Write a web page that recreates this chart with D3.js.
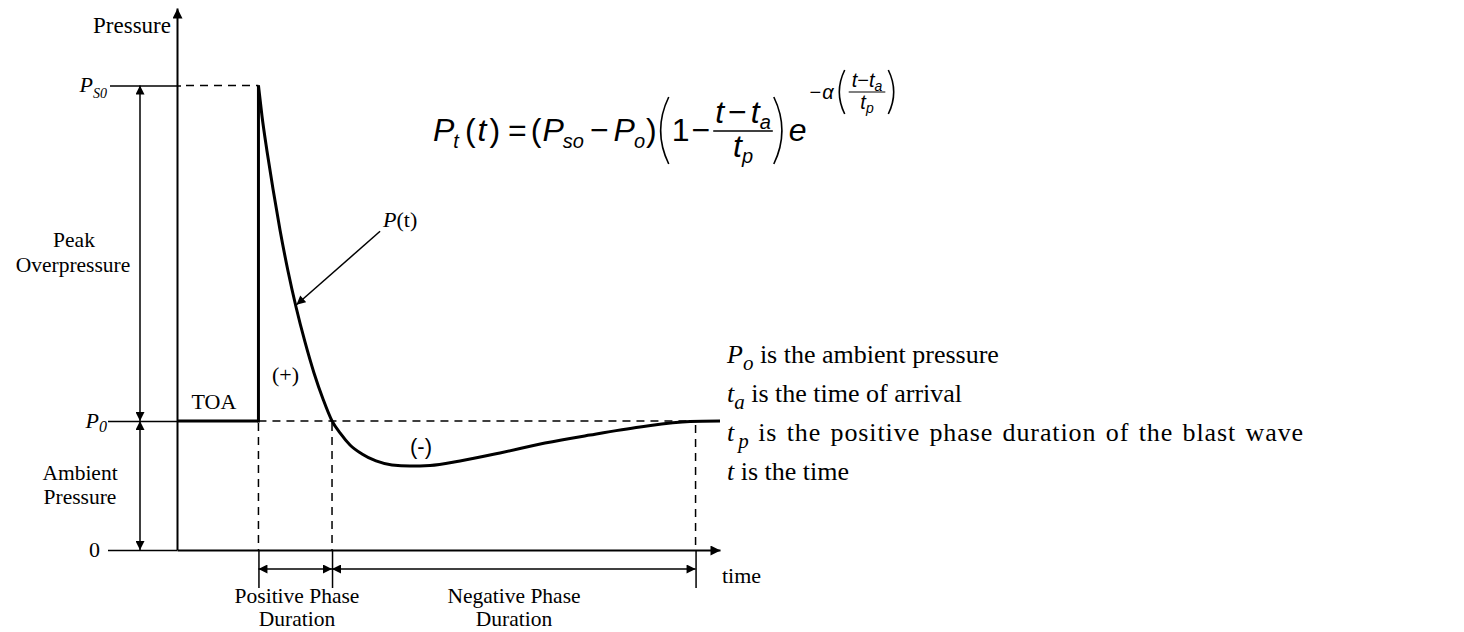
<!DOCTYPE html>
<html>
<head>
<meta charset="utf-8">
<script src="https://cdn.jsdelivr.net/npm/d3@7"></script>
<style>
  html, body { margin: 0; padding: 0; background: #fff; }
  svg { display: block; }
  .serif { font-family: "Liberation Serif", "Times New Roman", serif; fill: #000; }
  .sans { font-family: "Liberation Sans", Arial, sans-serif; fill: #000; }
</style>
</head>
<body>
<svg id="chart" width="1464" height="632"></svg>
<script>
// ---------------- data ----------------
// time in arbitrary units, pressure in arbitrary units (P0 = 1)
const timeDomain = [0, 10];
const pressureDomain = [0, 4.2];
const ambientPressure = 1.0;        // P0
const peakPressure = 3.6;           // Ps0
const arrivalTime = 1.5;            // ta
const positiveEnd = 2.855;          // ta + tp
const negativeEnd = 9.55;           // end of negative phase
const curveTime = [1.5, 1.565, 1.657, 1.768, 1.897, 2.044, 2.192, 2.357, 2.523, 2.689, 2.855, 3.002, 3.186, 3.407, 3.665, 3.959, 4.291, 4.659, 5.212, 5.948, 6.777, 7.606, 8.527, 9.448, 10];
const curvePressure = [3.6, 3.363, 3.092, 2.797, 2.48, 2.162, 1.883, 1.612, 1.372, 1.17, 1.0, 0.907, 0.814, 0.744, 0.69, 0.659, 0.651, 0.655, 0.69, 0.752, 0.829, 0.891, 0.953, 0.996, 1.0];
const pressureTicks = [0, 1.0, 3.6];
const pressureTickLabels = [["0", ""], ["P", "0"], ["P", "S0"]];
const timeTicks = [1.5, 2.855, 9.55];
const definitions = [
  ["P", "o", " is the ambient pressure"],
  ["t", "a", " is the time of arrival"],
  ["t", "p", " is the positive phase duration of the blast wave"],
  ["t", "", " is the time"]
];

// ---------------- setup ----------------
const svg = d3.select("#chart");
const x = d3.scaleLinear().domain(timeDomain).range([177, 720]);
const y = d3.scaleLinear().domain(pressureDomain).range([550, 8]);

const defs = svg.append("defs");
defs.append("marker").attr("id", "ah")
  .attr("viewBox", "0 0 10 10").attr("refX", 10).attr("refY", 5)
  .attr("markerWidth", 10).attr("markerHeight", 9)
  .attr("markerUnits", "userSpaceOnUse")
  .attr("orient", "auto-start-reverse")
  .append("path").attr("d", "M0,0L10,5L0,10Z").attr("fill", "#000");
defs.append("marker").attr("id", "axh")
  .attr("viewBox", "0 0 10 10").attr("refX", 10).attr("refY", 5)
  .attr("markerWidth", 13).attr("markerHeight", 10)
  .attr("markerUnits", "userSpaceOnUse")
  .attr("orient", "auto")
  .append("path").attr("d", "M0,0L10,5L0,10Z").attr("fill", "#000");

// ---------------- axes ----------------
const yAxis = svg.append("g").attr("transform", `translate(${x(0)},0)`)
  .call(d3.axisLeft(y).tickValues(pressureTicks).tickSize(69).tickSizeOuter(0).tickFormat(""));
yAxis.select(".domain").attr("stroke", "#000").attr("stroke-width", 2).attr("marker-end", "url(#axh)");
yAxis.selectAll(".tick line").attr("stroke", "#000").attr("stroke-width", 1.5)
  .attr("x2", d => d === peakPressure ? -67 : -69)
  .attr("x1", d => d === peakPressure ? 4 : 0);

const xAxis = svg.append("g").attr("transform", `translate(0,${y(0)})`)
  .call(d3.axisBottom(x).tickValues(timeTicks).tickSize(38).tickSizeOuter(0).tickFormat(""));
xAxis.select(".domain").attr("stroke", "#000").attr("stroke-width", 2).attr("marker-end", "url(#axh)");
xAxis.selectAll(".tick line").attr("stroke", "#000").attr("stroke-width", 1.5);

// y tick labels
pressureTicks.forEach((v, i) => {
  const [main, sub] = pressureTickLabels[i];
  const t = svg.append("text").attr("class", "serif").attr("text-anchor", "end")
    .attr("x", sub ? 107 : 100).attr("y", y(v) + 7).style("font-size", "22px");
  if (sub) {
    t.append("tspan").style("font-style", "italic").text(main);
    t.append("tspan").style("font-style", "italic").style("font-size", sub.length > 1 ? "14px" : "16px")
      .attr("dy", sub.length > 1 ? 6 : 4).text(sub);
  } else {
    t.text(main);
  }
});

// ---------------- dashed guides ----------------
const dash = "8,6";
svg.append("line").attr("x1", x(0) + 9).attr("x2", x(arrivalTime)).attr("y1", y(peakPressure)).attr("y2", y(peakPressure))
  .attr("stroke", "#000").attr("stroke-width", 1.5).attr("stroke-dasharray", dash);
svg.append("line").attr("x1", x(arrivalTime)).attr("x2", x(timeDomain[1])).attr("y1", y(ambientPressure)).attr("y2", y(ambientPressure))
  .attr("stroke", "#000").attr("stroke-width", 1.5).attr("stroke-dasharray", dash);
timeTicks.forEach(t => {
  svg.append("line").attr("x1", x(t)).attr("x2", x(t))
    .attr("y1", y(ambientPressure) + (t === negativeEnd ? 4 : 2)).attr("y2", y(0))
    .attr("stroke", "#000").attr("stroke-width", 1.5).attr("stroke-dasharray", dash);
});

// ---------------- pressure history ----------------
svg.append("line").attr("x1", x(0)).attr("x2", x(arrivalTime)).attr("y1", y(ambientPressure)).attr("y2", y(ambientPressure))
  .attr("stroke", "#000").attr("stroke-width", 3);
svg.append("line").attr("x1", x(arrivalTime)).attr("x2", x(arrivalTime)).attr("y1", y(ambientPressure) + 1.5).attr("y2", y(peakPressure))
  .attr("stroke", "#000").attr("stroke-width", 3);
const pts = curveTime.map((t, i) => [t, curvePressure[i]]);
svg.append("path").datum(pts)
  .attr("d", d3.line().x(d => x(d[0])).y(d => y(d[1])).curve(d3.curveMonotoneX))
  .attr("fill", "none").attr("stroke", "#000").attr("stroke-width", 3).attr("stroke-linejoin", "round");

// ---------------- dimension arrows ----------------
function dimArrow(x1, y1, x2, y2) {
  svg.append("line").attr("x1", x1).attr("y1", y1).attr("x2", x2).attr("y2", y2)
    .attr("stroke", "#000").attr("stroke-width", 1.5)
    .attr("marker-start", "url(#ah)").attr("marker-end", "url(#ah)");
}
dimArrow(140, y(peakPressure), 140, y(ambientPressure));
dimArrow(140, y(ambientPressure), 140, y(0));
dimArrow(x(arrivalTime), 569, x(positiveEnd), 569);
dimArrow(x(positiveEnd), 569, x(negativeEnd), 569);

// P(t) pointer
svg.append("line").attr("x1", x(3.74)).attr("y1", y(2.47)).attr("x2", x(2.2)).attr("y2", y(1.9))
  .attr("stroke", "#000").attr("stroke-width", 1.5).attr("marker-end", "url(#ah)");

// ---------------- labels ----------------
function label(txt, xx, yy, anchor, size, cls) {
  return svg.append("text").attr("class", cls || "serif").attr("x", xx).attr("y", yy)
    .attr("text-anchor", anchor || "start").style("font-size", (size || 22) + "px").text(txt);
}
label("Pressure", 171, 33, "end", 23);
label("Peak", 74, 247, "middle", 21.5);
label("Overpressure", 73, 272, "middle", 21.5);
label("Ambient", 80, 480, "middle", 21.5);
label("Pressure", 80, 504, "middle", 21.5);
label("TOA", 214, 409, "middle");
label("(+)", 272, 382, "start");
label("(-)", 410, 454, "start", 22, "sans");
label("time", 722, 583, "start");
label("Positive Phase", 297, 603, "middle", 21.5);
label("Duration", 297, 626, "middle", 21.5);
label("Negative Phase", 514, 603, "middle", 21.5);
label("Duration", 514, 626, "middle", 21.5);
const pt = svg.append("text").attr("class", "serif").attr("x", 383).attr("y", 227).style("font-size", "22px");
pt.append("tspan").style("font-style", "italic").text("P");
pt.append("tspan").text("(t)");

// definitions on the right
definitions.forEach((d, i) => {
  const t = svg.append("text").attr("class", "serif").attr("x", 727).attr("y", 363 + i * 39).style("font-size", "26px");
  t.append("tspan").style("font-style", "italic").text(d[0]);
  if (d[1]) {
    t.append("tspan").style("font-style", "italic").style("font-size", "21px")
      .attr("dx", d[1] === "p" ? 4 : 0).attr("dy", 7).text(d[1]);
    const rest = t.append("tspan").attr("dy", -7).text(d[2]);
    if (d[1] === "p") rest.style("letter-spacing", "0.9px").style("word-spacing", "2px");
  } else {
    t.append("tspan").text(d[2]);
  }
});

// ---------------- formula ----------------
const fg = svg.append("g").attr("class", "sans");
const F = 32, S = 20, E = 20, ES = 14;
const yb = 141;             // main baseline
const A = yb - 10;          // main math axis
const EA = 92;              // exponent axis
function measure(str, size, it) {
  const t = fg.append("text").style("font-size", size + "px").style("font-style", it ? "italic" : "normal").text(str);
  const w = t.node().getComputedTextLength(); t.remove(); return w;
}
function put(str, xx, yy, size, it) {
  fg.append("text").attr("x", xx).attr("y", yy).style("font-size", size + "px")
    .style("font-style", it ? "italic" : "normal").text(str);
  return measure(str, size, it);
}
function paren(xx, top, bot, w, left) {
  const mid = (top + bot) / 2;
  const d = left
    ? `M${xx + w},${top} Q${xx - w * 0.35},${mid} ${xx + w},${bot}`
    : `M${xx},${top} Q${xx + w * 1.35},${mid} ${xx},${bot}`;
  fg.append("path").attr("d", d).attr("fill", "none").attr("stroke", "#000").attr("stroke-width", 1.6);
}
let cx = 433;
cx += put("P", cx, yb, F, true);
cx += put("t", cx - 1, yb + 7, S, true) + 5;
cx += put("(", cx, yb, F, false) + 2;
cx += put("t", cx, yb, F, true) + 3;
cx += put(")", cx, yb, F, false) + 8;
cx += put("=", cx, yb, F, false) + 4;
cx += put("(", cx, yb, F, false) + 1;
cx += put("P", cx, yb, F, true);
cx += put("so", cx - 1, yb + 7, S, true) + 5;
cx += put("\u2212", cx, yb, F, false) + 5;
cx += put("P", cx, yb, F, true);
cx += put("o", cx - 1, yb + 7, S, true);
cx += put(")", cx, yb, F, false);
paren(cx, A - 34, A + 33, 12, true); cx += 15;
cx += put("1", cx, yb, F, false) + 2;
cx += put("\u2212", cx, yb, F, false) + 3;
{
  const numW = measure("t", F, true) + 4 + measure("\u2212", F) + 4 + measure("t", F, true) + measure("a", S, true);
  const denW = measure("t", F, true) + measure("p", S, true);
  const fw = Math.max(numW, denW) + 4;
  let nx = cx + (fw - numW) / 2;
  nx += put("t", nx, A - 8, F, true) + 4;
  nx += put("\u2212", nx, A - 8, F, false) + 4;
  nx += put("t", nx, A - 8, F, true);
  put("a", nx, A - 2, S, true);
  let dx = cx + (fw - denW) / 2;
  dx += put("t", dx, A + 26, F, true);
  put("p", dx, A + 32, S, true);
  fg.append("line").attr("x1", cx).attr("x2", cx + fw).attr("y1", A).attr("y2", A).attr("stroke", "#000").attr("stroke-width", 1.5);
  cx += fw + 1;
}
paren(cx, A - 34, A + 33, 12, false); cx += 15;
cx += put("e", cx, yb, F, true) + 3;
cx += put("\u2212", cx, EA + 7, E, false) + 1;
cx += put("\u03B1", cx, EA + 7, E, true) + 3;
paren(cx, EA - 22, EA + 22, 8, true); cx += 12;
{
  const numW = measure("t", E, true) + measure("\u2212", E) + measure("t", E, true) + measure("a", ES, true);
  const denW = measure("t", E, true) + measure("p", ES, true);
  const fw = Math.max(numW, denW) + 6;
  let nx = cx + (fw - numW) / 2;
  nx += put("t", nx, EA - 5, E, true);
  nx += put("\u2212", nx, EA - 5, E, false);
  nx += put("t", nx, EA - 5, E, true);
  put("a", nx, EA - 1, ES, true);
  let dx = cx + (fw - denW) / 2;
  dx += put("t", dx, EA + 17, E, true);
  put("p", dx, EA + 21, ES, true);
  fg.append("line").attr("x1", cx).attr("x2", cx + fw).attr("y1", EA).attr("y2", EA).attr("stroke", "#000").attr("stroke-width", 1.2);
  cx += fw + 3;
}
paren(cx, EA - 22, EA + 22, 8, false);
</script>
</body>
</html>
